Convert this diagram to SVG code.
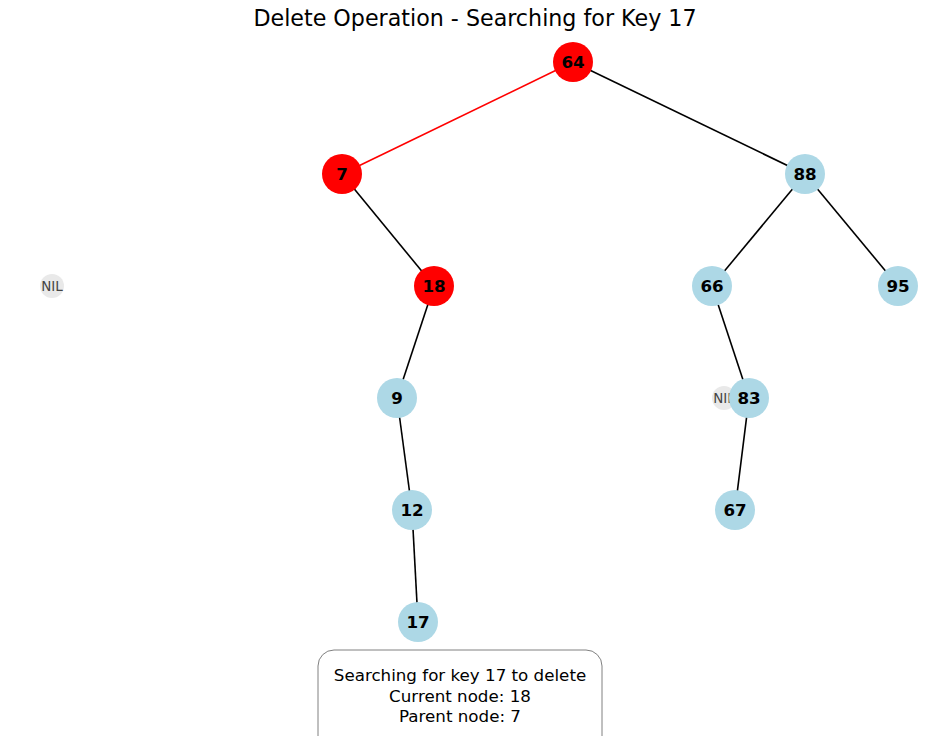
<svg xmlns="http://www.w3.org/2000/svg" width="950" height="736" viewBox="0 0 950 736">
<style>
.edge{stroke:#000;stroke-width:1.6;fill:none}
.hl{stroke:#ff0000}
.n circle{fill:#add8e6}
.n.red circle{fill:#ff0000}
.n text{font-family:"DejaVu Sans",sans-serif;font-size:16.7px;font-weight:bold;fill:#000;text-anchor:middle;dominant-baseline:central}
.nil circle{fill:#d3d3d3;fill-opacity:0.5}
.nil text{font-family:"DejaVu Sans",sans-serif;font-size:13.5px;fill:#444;text-anchor:middle;dominant-baseline:central}
.t{font-family:"DejaVu Sans",sans-serif;fill:#000;text-anchor:middle}
</style>
<rect width="950" height="736" fill="#fff"/>
<text class="t" x="475" y="26" font-size="22.2">Delete Operation - Searching for Key 17</text>
<g id="connectors">
<line class="edge hl" x1="573" y1="62" x2="342" y2="174"/>
<line class="edge" x1="573" y1="62" x2="805" y2="174"/>
<line class="edge" x1="342" y1="174" x2="434" y2="286"/>
<line class="edge" x1="805" y1="174" x2="712" y2="286"/>
<line class="edge" x1="805" y1="174" x2="898" y2="286"/>
<line class="edge" x1="434" y1="286" x2="397" y2="398"/>
<line class="edge" x1="712" y1="286" x2="749" y2="398"/>
<line class="edge" x1="397" y1="398" x2="412" y2="510"/>
<line class="edge" x1="749" y1="398" x2="735" y2="510"/>
<line class="edge" x1="412" y1="510" x2="418" y2="622"/>
</g>
<g id="nil1" class="nil"><circle cx="52" cy="286" r="12"/><text x="52" y="286">NIL</text></g>
<g id="nil2" class="nil"><circle cx="724" cy="398" r="12"/><text x="724" y="398">NIL</text></g>
<g id="n64" class="n red"><circle cx="573" cy="62" r="20"/><text x="573" y="62">64</text></g>
<g id="n7" class="n red"><circle cx="342" cy="174" r="20"/><text x="342" y="174">7</text></g>
<g id="n88" class="n"><circle cx="805" cy="174" r="20"/><text x="805" y="174">88</text></g>
<g id="n18" class="n red"><circle cx="434" cy="286" r="20"/><text x="434" y="286">18</text></g>
<g id="n66" class="n"><circle cx="712" cy="286" r="20"/><text x="712" y="286">66</text></g>
<g id="n95" class="n"><circle cx="898" cy="286" r="20"/><text x="898" y="286">95</text></g>
<g id="n9" class="n"><circle cx="397" cy="398" r="20"/><text x="397" y="398">9</text></g>
<g id="n83" class="n"><circle cx="749" cy="398" r="20"/><text x="749" y="398">83</text></g>
<g id="n12" class="n"><circle cx="412" cy="510" r="20"/><text x="412" y="510">12</text></g>
<g id="n67" class="n"><circle cx="735" cy="510" r="20"/><text x="735" y="510">67</text></g>
<g id="n17" class="n"><circle cx="418" cy="622" r="20"/><text x="418" y="622">17</text></g>
<g id="info">
<rect x="318" y="650" width="284" height="110" rx="16" fill="#fff" stroke="#808080" stroke-width="1"/>
<text class="t" x="460" y="681" font-size="16.7">Searching for key 17 to delete</text>
<text class="t" x="460" y="702" font-size="16.7">Current node: 18</text>
<text class="t" x="460" y="722" font-size="16.7">Parent node: 7</text>
</g>
</svg>
